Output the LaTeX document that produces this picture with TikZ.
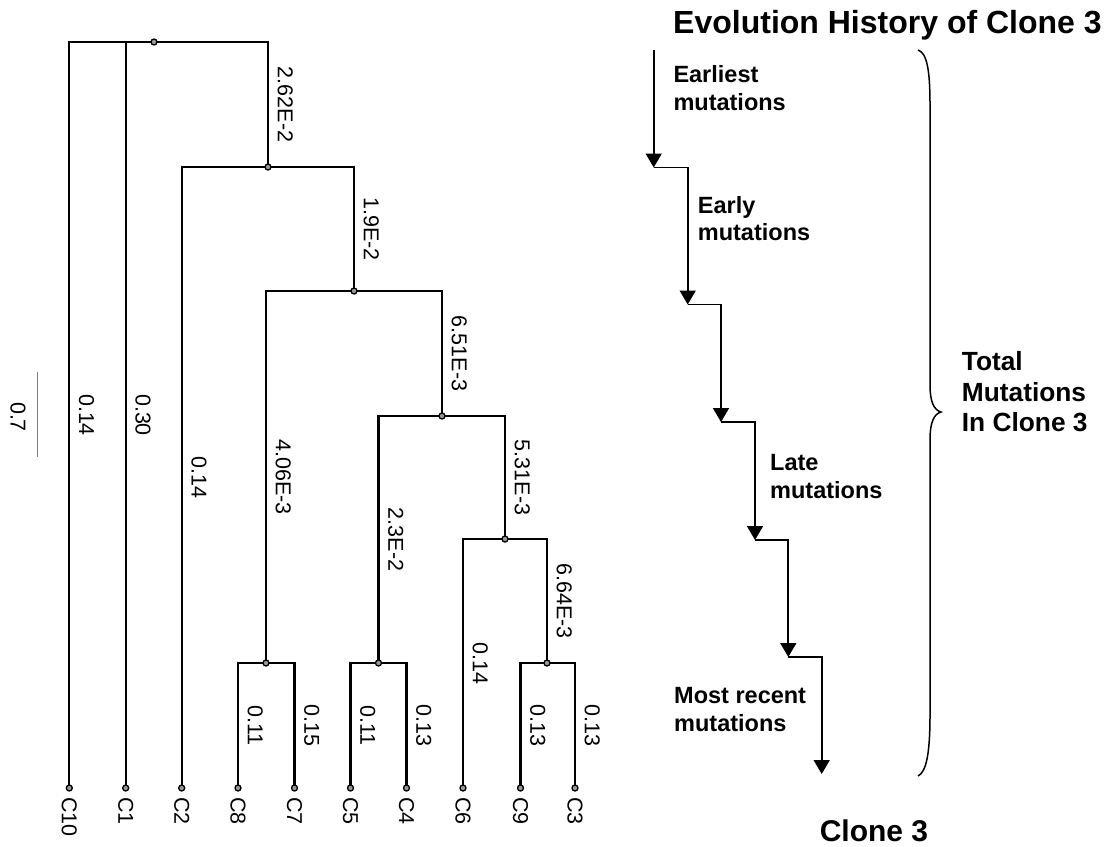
\documentclass[tikz,border=0pt]{standalone}
\usepackage{fontspec}
\setmainfont{Liberation Sans}
\usetikzlibrary{arrows.meta,calc}
\begin{document}
\begin{tikzpicture}[x=1pt,y=-1pt,
  tree/.style={line width=2.1pt, line join=miter},
  dot/.style={circle, draw, fill=black!40, line width=1.3pt, inner sep=0pt, minimum size=6pt},
  elab/.style={rotate=-90, anchor=south, inner xsep=0pt, inner ysep=9.5pt, font=\fontsize{21.5}{25}\selectfont},
  leaflab/.style={rotate=-90, anchor=west, inner sep=0pt, font=\fontsize{21.5}{25}\selectfont},
  arr/.style={line width=1.7pt, -{Triangle[width=16pt,length=14pt]}},
  lbl/.style={anchor=north west, inner sep=0pt, align=left, font=\bfseries\fontsize{23.5}{27.7}\selectfont}
]
\useasboundingbox (0,0) rectangle (1105,846);

% ---------- tree ----------
\coordinate (root) at (154,42);
\coordinate (n2) at (268,167);
\coordinate (n3) at (354,291);
\coordinate (n4) at (442,416);
\coordinate (n5) at (505,539);
\coordinate (n6) at (547,663);
\coordinate (n87) at (266,663);
\coordinate (n54) at (378.5,663);
\coordinate (l10) at (69.3,788);
\coordinate (l1) at (125.7,788);
\coordinate (l2) at (181.7,788);
\coordinate (l8) at (238,788);
\coordinate (l7) at (294.5,788);
\coordinate (l5) at (350.5,788);
\coordinate (l4) at (406.5,788);
\coordinate (l6) at (463,788);
\coordinate (l9) at (520.5,788);
\coordinate (l3) at (575,788);

\draw[tree] (l10) |- (root) -| (n2);
\draw[tree] (l1) -- (l1 |- root);
\draw[tree] (l2) |- (n2) -| (n3);
\draw[tree] (n87) |- (n3) -| (n4);
\draw[tree] (n54) |- (n4) -| (n5);
\draw[tree] (l6) |- (n5) -| (n6);
\draw[tree] (l9) |- (n6) -| (l3);
\draw[tree] (l8) |- (n87) -| (l7);
\draw[tree] (l5) |- (n54) -| (l4);

\foreach \p in {root,n2,n3,n4,n5,n6,n87,n54,l10,l1,l2,l8,l7,l5,l4,l6,l9,l3}
  \node[dot] at (\p) {};

% branch labels
\path (n2) -- (n2 |- root) node[midway, elab] {2.62E-2};
\path (n3) -- (n2 -| n3) node[midway, elab] {1.9E-2};
\path (n4) -- (n3 -| n4) node[midway, elab] {6.51E-3};
\path (n5) -- (n4 -| n5) node[midway, elab] {5.31E-3};
\path (n6) -- (n5 -| n6) node[midway, elab] {6.64E-3};
\path (n87) -- (n3 -| n87) node[midway, elab] {4.06E-3};
\path (n54) -- (n4 -| n54) node[midway, elab] {2.3E-2};
\path (l10) -- (l10 |- root) node[midway, elab] {0.14};
\path (l1) -- (l1 |- root) node[midway, elab] {0.30};
\path (l2) -- (l2 |- n2) node[midway, elab] {0.14};
\path (l6) -- (l6 |- n5) node[midway, elab] {0.14};
\path (l8) -- (l8 |- n87) node[midway, elab] {0.11};
\path (l7) -- (l7 |- n87) node[midway, elab] {0.15};
\path (l5) -- (l5 |- n54) node[midway, elab] {0.11};
\path (l4) -- (l4 |- n54) node[midway, elab] {0.13};
\path (l9) -- (l9 |- n6) node[midway, elab] {0.13};
\path (l3) -- (l3 |- n6) node[midway, elab] {0.13};

% leaf names
\foreach \p/\t in {l10/C10,l1/C1,l2/C2,l8/C8,l7/C7,l5/C5,l4/C4,l6/C6,l9/C9,l3/C3}
  \node[leaflab] at ([yshift=-9pt]\p) {\t};

% scale bar
\coordinate (sb1) at (37.7,372);
\coordinate (sb2) at (37.7,457);
\draw[line width=1.5pt, black!50] (sb1) -- (sb2);
\node[rotate=-90, font=\fontsize{21.5}{25}\selectfont, inner sep=0pt] (sbl) at (18,417) {0.7};

% ---------- evolution history ----------
\node[anchor=base west, inner sep=0pt, font=\bfseries\fontsize{32}{36}\selectfont] (title) at (673,33.3) {Evolution History of Clone 3};

\coordinate (a0) at (653.7,50);
\coordinate (a1) at (653.7,167.5);
\coordinate (b0) at (687.7,167.5);
\coordinate (b1) at (687.7,304.5);
\coordinate (c0) at (721,304.5);
\coordinate (c1) at (721,422);
\coordinate (d0) at (755,422);
\coordinate (d1) at (755,540);
\coordinate (e0) at (788.3,540);
\coordinate (e1) at (788.3,657);
\coordinate (f0) at (821.7,657);
\coordinate (f1) at (821.7,774);

\draw[arr] (a0) -- (a1);
\draw[arr] (a1) -- (b0) -- (b1);
\draw[arr] (b1) -- (c0) -- (c1);
\draw[arr] (c1) -- (d0) -- (d1);
\draw[arr] (d1) -- (e0) -- (e1);
\draw[arr] (e1) -- (f0) -- (f1);

\node[lbl] (t1) at (673.3,65.3) {Earliest\\mutations};
\node[lbl] (t2) at (697.7,195.8) {Early\\mutations};
\node[lbl] (t3) at (770,454.2) {Late\\mutations};
\node[lbl] (t4) at (674,687.5) {Most recent\\mutations};

% brace
\coordinate (br0) at (918,50);
\coordinate (brm) at (941,412);
\coordinate (br1) at (918,776);
\draw[line width=1.5pt]
  (br0) .. controls (927,53) and (930,70) .. (930,105)
  -- (930,385) .. controls (930,402) and (934,410) .. (brm)
  .. controls (934,414) and (930,422) .. (930,440)
  -- (930,715) .. controls (930,755) and (926,772) .. (br1);

\node[lbl, font=\bfseries\fontsize{26.3}{30.5}\selectfont] (total) at (961.7,351.4) {Total\\Mutations\\In Clone 3};

\node[anchor=base, inner sep=0pt, font=\bfseries\fontsize{30}{36}\selectfont] (clone) at (874,841.7) {Clone 3};
\end{tikzpicture}
\end{document}
